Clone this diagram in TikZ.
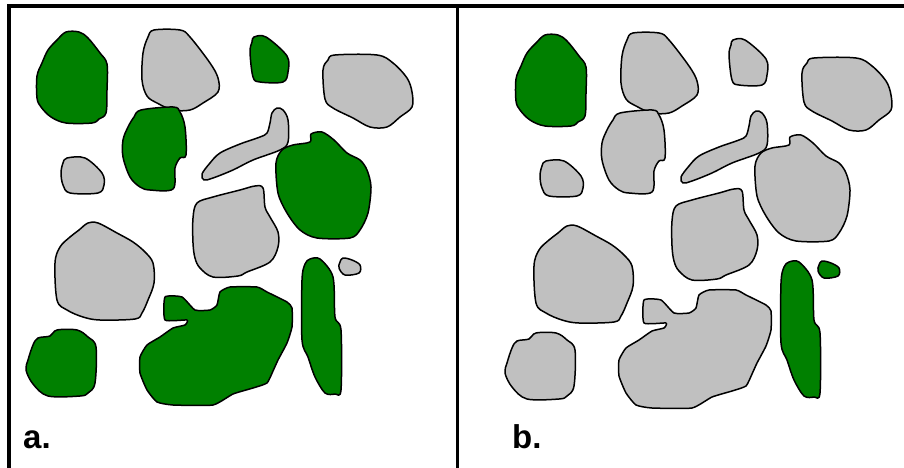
\documentclass[tikz,border=0pt]{standalone}
\usepackage{fontspec}
\setmainfont{Liberation Sans}
\definecolor{grn}{RGB}{0,128,0}
\definecolor{gry}{RGB}{192,192,192}
\tikzset{
  rock/.style={draw=black, line width=1.5pt, line join=round},
  gr/.style={rock, fill=grn},
  gy/.style={rock, fill=gry},
  frame/.style={draw=black, line width=3.5pt},
  lbl/.style={font=\bfseries\fontsize{33}{33}\selectfont, inner sep=0pt, anchor=base west}
}
\newcommand\rocks{%
  % 1 top-left
  \draw[r1] plot[smooth cycle, tension=0.55] coordinates {(66,32) (79,32) (88,38) (100,53) (107,64) (107,90) (106,113) (99,119) (92,123) (66,123) (51,117) (41,107) (37,98) (37,76) (42,63) (48,50) (57,40)};
  % 2 top middle gray
  \draw[r2] plot[smooth cycle, tension=0.55] coordinates {(154,30) (180,30) (190,37) (210,63) (218,78) (218,92) (203,103) (190,110) (173,110) (157,103) (147,96) (142,80) (143,53) (148,37)};
  % 3 small top
  \draw[r3] plot[smooth cycle, tension=0.55] coordinates {(254,37) (266,37) (287,56) (288,72) (283,82) (260,82) (253,77) (250,52) (252,42)};
  % 4 right top gray
  \draw[r4] plot[smooth cycle, tension=0.55] coordinates {(335,55) (377,55) (393,63) (407,78) (412,92) (412,107) (400,117) (387,127) (370,127) (353,118) (333,108) (325,99) (323,70) (328,60)};
  % 5 middle left
  \draw[r5] plot[smooth cycle, tension=0.55] coordinates {(141,110) (173,107) (180,112) (185,127) (186,155) (180,158) (175,168) (173,189) (150,190) (140,187) (130,177) (123,157) (123,140) (128,127) (134,117)};
  % 6 small gray
  \draw[r6] plot[smooth cycle, tension=0.55] coordinates {(67,158) (85,158) (102,173) (104,185) (98,193) (70,193) (63,185) (61,173) (63,163)};
  % 7 elongated gray
  \draw[r7] plot[smooth cycle, tension=0.55] coordinates {(277,108) (283,110) (288,120) (288,142) (280,150) (253,160) (233,170) (213,178) (204,180) (202,174) (210,163) (220,153) (240,144) (260,137) (267,133) (270,123) (272,113)};
  % 8 big right
  \draw[r8] plot[smooth cycle, tension=0.5] coordinates {(311,134) (322,132) (334,140) (347,153) (360,160) (367,170) (371,187) (368,213) (360,230) (350,238) (317,238) (300,230) (287,213) (278,193) (276,163) (282,150) (293,145) (310,142)};
  % 9 middle gray
  \draw[r9] plot[smooth cycle, tension=0.55] coordinates {(197,203) (213,197) (240,190) (255,186) (263,188) (265,207) (270,217) (278,232) (278,247) (270,262) (247,272) (238,276) (213,277) (200,268) (195,258) (193,243) (193,218)};
  % 10 big left gray
  \draw[r10] plot[smooth cycle, tension=0.55] coordinates {(88,223) (98,223) (117,233) (133,242) (145,252) (153,263) (154,283) (148,300) (142,313) (135,319) (100,320) (83,317) (67,310) (57,300) (55,263) (60,247) (70,237) (79,230)};
  % 11 small right
  \draw[r11] plot[smooth cycle, tension=0.55] coordinates {(343,258) (352,260) (360,265) (359,273) (345,275) (339,268) (340,262)};
  % 12 vertical
  \draw[r12] plot[smooth cycle, tension=0.5] coordinates {(310,259) (320,259) (333,277) (335,317) (341,330) (341,390) (335,394) (325,393) (315,377) (308,357) (302,340) (302,280) (305,264)};
  % 13 bottom left
  \draw[r13] plot[smooth cycle, tension=0.55] coordinates {(57,330) (77,330) (88,337) (96,347) (95,383) (88,393) (80,396) (48,396) (33,384) (26,370) (28,360) (33,345) (38,338) (50,336)};
  % 14 big bottom
  \draw[r14] plot[smooth cycle, tension=0.3] coordinates {(165,297) (182,297) (195,310) (210,310) (217,305) (220,292) (230,287) (257,287) (267,292) (287,302) (292,308) (292,327) (287,343) (278,360) (273,371) (267,383) (253,388) (233,394) (213,405) (173,405) (157,402) (147,390) (140,373) (140,357) (147,345) (160,337) (173,328) (185,325) (187,320) (165,320)};
}
\begin{document}
\begin{tikzpicture}[x=1pt,y=-1pt]
  \useasboundingbox (0,0) rectangle (904,468);
  \fill[white] (0,0) rectangle (904,468);
  % panel a
  \begin{scope}[r1/.style=gr, r2/.style=gy, r3/.style=gr, r4/.style=gy, r5/.style=gr,
      r6/.style=gy, r7/.style=gy, r8/.style=gr, r9/.style=gy, r10/.style=gy,
      r11/.style=gy, r12/.style=gr, r13/.style=gr, r14/.style=gr]
    \rocks
  \end{scope}
  % panel b
  \begin{scope}[shift={(479,3)}, r1/.style=gr, r2/.style=gy, r3/.style=gy, r4/.style=gy, r5/.style=gy,
      r6/.style=gy, r7/.style=gy, r8/.style=gy, r9/.style=gy, r10/.style=gy,
      r11/.style=gr, r12/.style=gr, r13/.style=gy, r14/.style=gy]
    \rocks
  \end{scope}
  % frame
  \draw[frame] (9,468) -- (9,6) -- (904,6);
  \draw[frame, line width=3pt] (457.5,6) -- (457.5,468);
  % labels
  \node[lbl] (la) at (23,448) {a.};
  \node[lbl] (lb) at (512,448) {b.};
\end{tikzpicture}
\end{document}
